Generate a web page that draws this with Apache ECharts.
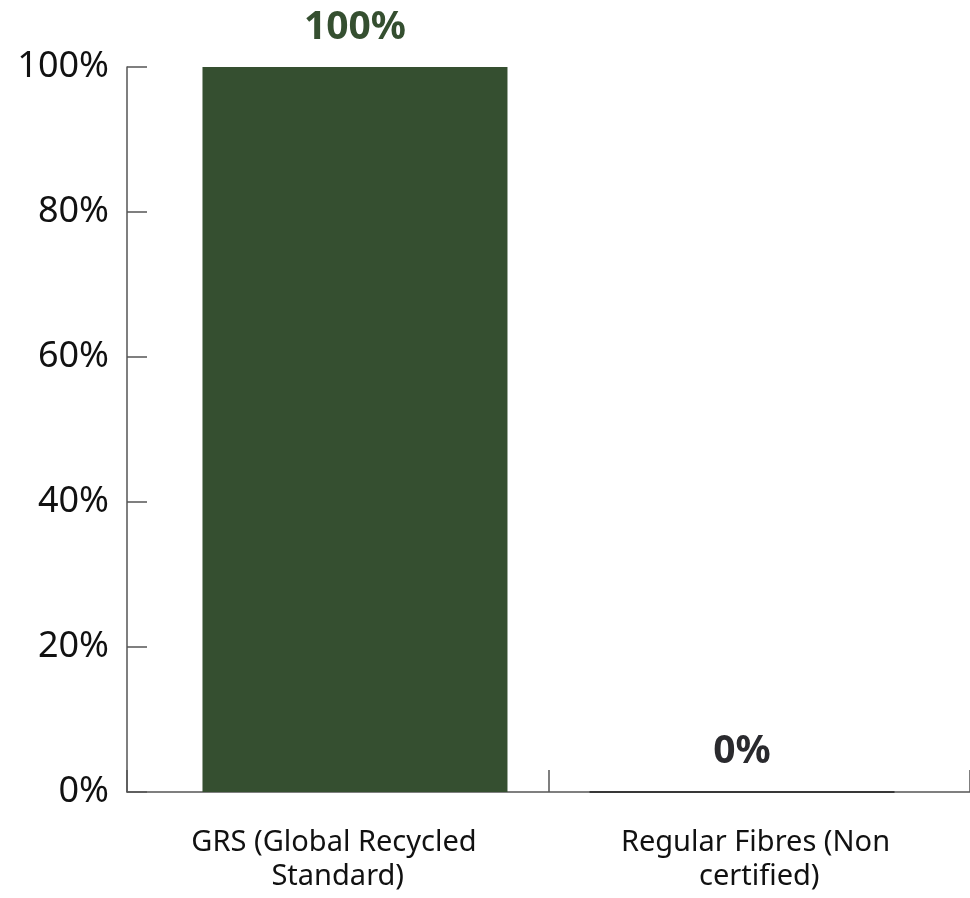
<!DOCTYPE html>
<html>
<head>
<meta charset="utf-8">
<script src="https://cdn.jsdelivr.net/npm/echarts@6/dist/echarts.min.js"></script>
<style>
html,body{margin:0;padding:0;background:#fff;}
#chart{width:970px;height:898px;}
</style>
</head>
<body>
<div id="chart"></div>
<script>
var categories = ['GRS (Global Recycled Standard)', 'Regular Fibres (Non certified)'];
var grsValues = [100, '-'];
var regularValues = ['-', 0];
var yTicks = [0, 20, 40, 60, 80, 100];

var FONT = '"Noto Sans", sans-serif';
var chart = echarts.init(document.getElementById('chart'));
chart.setOption({
  animation: false,
  grid: { left: 127, right: 0, top: 67, bottom: 106, containLabel: false },
  xAxis: {
    type: 'category',
    data: categories,
    axisLine: { show: true, lineStyle: { color: '#555', width: 1.5 } },
    axisTick: { show: true, inside: true, length: 22, lineStyle: { color: '#555', width: 1.5 } },
    axisLabel: {
      color: '#111', fontFamily: FONT, fontSize: 29, lineHeight: 34, margin: 34,
      width: 330, overflow: 'break', interval: 0
    }
  },
  yAxis: {
    type: 'value',
    min: yTicks[0], max: yTicks[yTicks.length - 1], interval: 20,
    splitLine: { show: false },
    axisLine: { show: true, lineStyle: { color: '#555', width: 1.5 } },
    axisTick: { show: true, inside: true, length: 20, lineStyle: { color: '#555', width: 1.5 } },
    axisLabel: { color: '#111', fontFamily: FONT, fontSize: 36, margin: 18, formatter: '{value}%' }
  },
  series: [
    {
      name: 'Regular', type: 'bar', data: regularValues,
      barWidth: 305, barGap: '-88.7%',
      itemStyle: { color: '#222', borderColor: '#222', borderWidth: 1.5 },
      label: { show: true, position: 'top', distance: 20, formatter: '{c}%',
        color: '#2a2a2e', fontFamily: FONT, fontWeight: 'bold', fontSize: 39 }
    },
    {
      name: 'GRS', type: 'bar', data: grsValues,
      barWidth: 305, barGap: '-88.7%',
      itemStyle: { color: '#354f30' },
      label: { show: true, position: 'top', distance: 20, formatter: '{c}%',
        color: '#354f30', fontFamily: FONT, fontWeight: 'bold', fontSize: 39 }
    }
  ]
});
</script>
</body>
</html>
